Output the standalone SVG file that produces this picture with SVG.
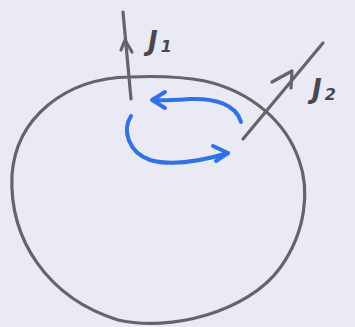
<svg xmlns="http://www.w3.org/2000/svg" width="355" height="327" viewBox="0 0 355 327">
<style>
.pen{fill:none;stroke:#656569;stroke-width:3.2;stroke-linecap:round;stroke-linejoin:round}
.blue{fill:none;stroke:#2f72e6;stroke-width:4;stroke-linecap:round;stroke-linejoin:round}
.lbl{font-family:"DejaVu Sans",sans-serif;font-style:italic;font-weight:bold;fill:#48484e}
</style>
<rect width="355" height="327" fill="#e9eaf3"/>
<g id="region">
<path class="pen" d="M130,77 C65,78 16,118 12,175 C9,240 48,298 118,320 C170,332 248,312 280,268 C306,232 310,190 299,160 C286,122 252,92 205,81 C178,76 152,76 130,77 Z"/>
</g>
<g id="connectors">
<g id="j1-arrow">
<path class="pen" d="M131,99 L123,12"/>
<path class="pen" d="M121,50 L125,40 L132,52"/>
</g>
<g id="j2-arrow">
<path class="pen" d="M243,139 L323,43"/>
<path class="pen" d="M272,82 L292,71 L291,88"/>
</g>
<g id="rotation">
<path class="blue" d="M241,122 C236,104 214,98 190,99 C175,100 162,101 153,100"/>
<path class="blue" d="M165,92 L152,100 L165,108"/>
<path class="blue" d="M131,116 C122,130 128,152 150,160 C175,167 205,160 228,153"/>
<path class="blue" d="M213,146 L228,153 L216,161"/>
</g>
</g>
<g id="label-j1"><text class="lbl" x="148" y="50" font-size="26">J<tspan font-size="16" dy="2" dx="3">1</tspan></text></g>
<g id="label-j2"><text class="lbl" x="312" y="98" font-size="26">J<tspan font-size="16" dy="2" dx="3">2</tspan></text></g>
</svg>
